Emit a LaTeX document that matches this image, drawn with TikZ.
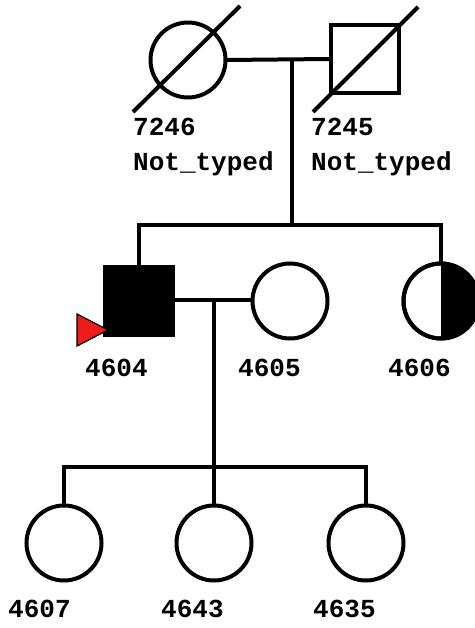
\documentclass[tikz,border=0pt]{standalone}
\usepackage{fontspec}
\newfontfamily\pedfont{Liberation Mono}
\begin{document}
\begin{tikzpicture}[x=1pt,y=-1pt,
  lw/.style={line width=4pt},
  fem/.style={circle,draw,lw,minimum size=75pt,inner sep=0pt,outer sep=0pt},
  mal/.style={rectangle,draw,lw,minimum size=68pt,inner sep=0pt,outer sep=0pt},
  conn/.style={lw},
  lbl/.style={anchor=base west,inner sep=0pt,font=\pedfont\bfseries\fontsize{26}{26}\selectfont}]
\useasboundingbox[fill=white] (0,0) rectangle (474,628);
% generation 1
\node[fem] (p7246) at (188,60) {};
\node[mal] (p7245) at (365,59) {};
\draw[conn] (133,112) -- (240,6);
\draw[conn] (313,112) -- (418,7);
\coordinate (m1) at (292,60);
\draw[conn] (p7246.east) -- (p7245.west);
\coordinate (s1) at (292,225);
\coordinate (s1l) at (139,225);
\coordinate (s1r) at (441,225);
\draw[conn] (m1) -- (s1);
% generation 2
\node[mal,fill=black] (p4604) at (139,301) {};
\node[fem] (p4605) at (290,301) {};
\node[fem] (p4606) at (441,301) {};
\fill[black] (p4606.north) arc[start angle=90,end angle=-90,radius=37.5pt] -- cycle;
\node[fem] at (441,301) {};
\draw[conn] (p4604.north) -- (s1l) -- (s1r) -- (p4606.north);
\draw[conn] (p4604.east |- 0,300) -- (p4605.west |- 0,300);
\coordinate (m2) at (214,300);
\coordinate (s2) at (214,467);
\draw[conn] (m2) -- (s2);
\draw[fill={rgb,255:red,238;green,28;blue,28},line width=1.2pt,line join=miter] (77,314) -- (108,330) -- (77,346) -- cycle;
% generation 3
\node[fem] (p4607) at (64,543) {};
\node[fem] (p4643) at (214,543) {};
\node[fem] (p4635) at (366,543) {};
\coordinate (s2l) at (64,467);
\coordinate (s2r) at (366,467);
\draw[conn] (p4607.north) -- (s2l) -- (s2r) -- (p4635.north);
\draw[conn] (s2) -- (p4643.north);
% labels
\node[lbl] at (133,136) {7246};
\node[lbl] at (133,171) {Not\_typed};
\node[lbl] at (311,136) {7245};
\node[lbl] at (311,171) {Not\_typed};
\node[lbl] at (85,376) {4604};
\node[lbl] at (238,376) {4605};
\node[lbl] at (388,376) {4606};
\node[lbl] at (8,617) {4607};
\node[lbl] at (161,617) {4643};
\node[lbl] at (313,617) {4635};
\end{tikzpicture}
\end{document}
